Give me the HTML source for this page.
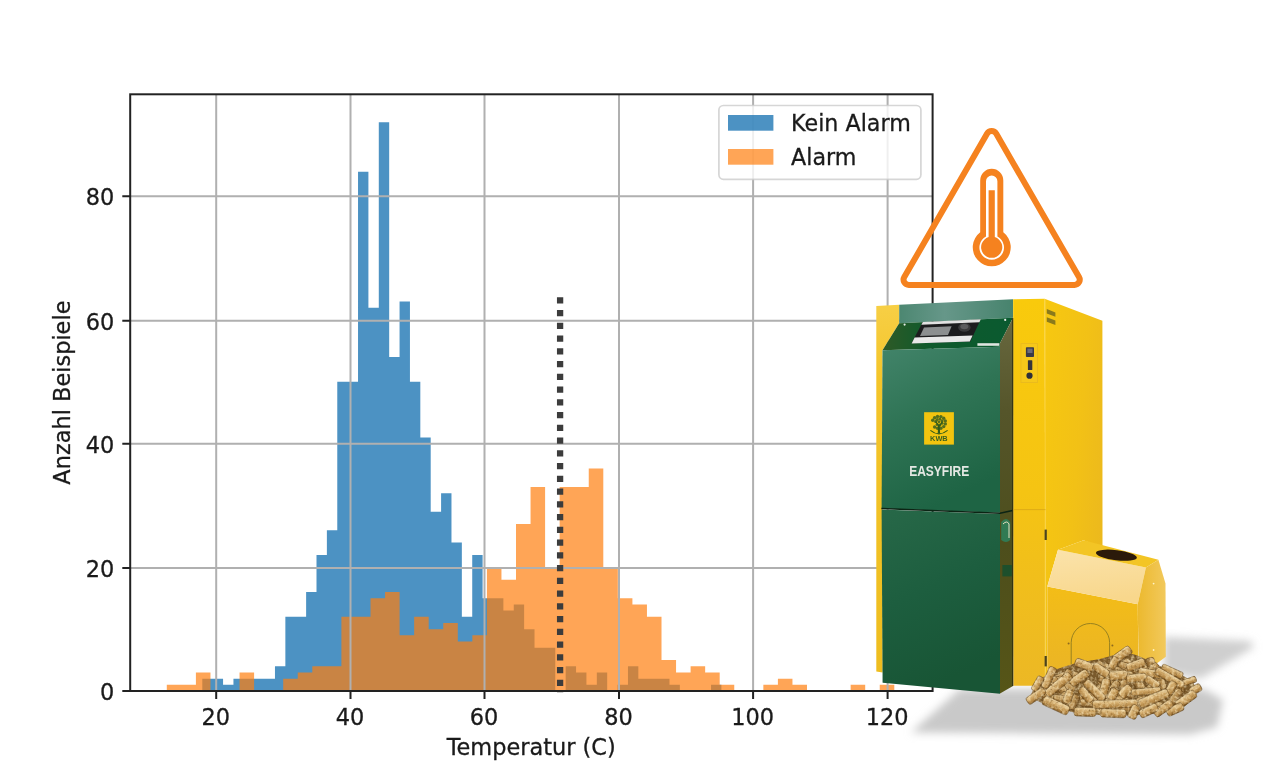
<!DOCTYPE html>
<html lang="de"><head><meta charset="utf-8"><title>Temperatur Histogramm</title>
<style>html,body{margin:0;padding:0;background:#fff;}body{width:1269px;height:776px;overflow:hidden;position:relative;}svg{display:block;position:absolute;left:0;top:0;}text{font-family:"DejaVu Sans", "Liberation Sans", sans-serif;}#chart text{stroke:#1a1a1a;stroke-width:0.3px;}svg{filter:blur(0.4px);}</style>
</head><body>
<svg width="1269" height="776" viewBox="0 0 1269 776">
<defs>
<filter id="blurS" x="-20%" y="-40%" width="140%" height="180%"><feGaussianBlur stdDeviation="4"/></filter>
<filter id="blur1" x="-10%" y="-10%" width="120%" height="120%"><feGaussianBlur stdDeviation="0.6"/></filter>
<linearGradient id="gDoorU" x1="0" y1="0" x2="0.35" y2="1">
<stop offset="0" stop-color="#42846a"/><stop offset="0.45" stop-color="#2f7455"/><stop offset="1" stop-color="#1e6444"/>
</linearGradient>
<linearGradient id="gDoorL" x1="0" y1="0" x2="0.3" y2="1">
<stop offset="0" stop-color="#276848"/><stop offset="0.5" stop-color="#1d5e3f"/><stop offset="1" stop-color="#185535"/>
</linearGradient>
<linearGradient id="gBand" x1="0" y1="0" x2="1" y2="0">
<stop offset="0" stop-color="#4c8771"/><stop offset="0.4" stop-color="#669789"/><stop offset="1" stop-color="#47836d"/>
</linearGradient>
<linearGradient id="gPanel" x1="0" y1="0" x2="1" y2="0">
<stop offset="0" stop-color="#2f5a26"/><stop offset="0.35" stop-color="#0f5a2c"/><stop offset="1" stop-color="#0a5a30"/>
</linearGradient>
<linearGradient id="gOlive" x1="0" y1="0" x2="0" y2="1">
<stop offset="0" stop-color="#68683f"/><stop offset="0.25" stop-color="#55552a"/><stop offset="0.6" stop-color="#4d4e1c"/><stop offset="1" stop-color="#565517"/>
</linearGradient>
<linearGradient id="gYF" x1="0" y1="0" x2="0" y2="1">
<stop offset="0" stop-color="#f9ca0c"/><stop offset="0.5" stop-color="#f5c413"/><stop offset="1" stop-color="#ecb825"/>
</linearGradient>
<linearGradient id="gYS" x1="0" y1="0" x2="1" y2="0.6">
<stop offset="0" stop-color="#f7c810"/><stop offset="0.6" stop-color="#f2c116"/><stop offset="1" stop-color="#ecb91d"/>
</linearGradient>
<linearGradient id="gYL" x1="0" y1="0" x2="0" y2="1">
<stop offset="0" stop-color="#f7cf45"/><stop offset="0.2" stop-color="#f4c52a"/><stop offset="1" stop-color="#eebd1f"/>
</linearGradient>
<linearGradient id="gBoxF" x1="0" y1="0" x2="0" y2="1">
<stop offset="0" stop-color="#f3bd17"/><stop offset="1" stop-color="#e9b328"/>
</linearGradient>
<linearGradient id="gBoxS" x1="0" y1="0" x2="0.2" y2="1">
<stop offset="0" stop-color="#fbe3ab"/><stop offset="1" stop-color="#f8d78c"/>
</linearGradient>
<linearGradient id="gBoxR" x1="0" y1="0" x2="1" y2="0">
<stop offset="0" stop-color="#ecb92e"/><stop offset="1" stop-color="#f2c95c"/>
</linearGradient>
<linearGradient id="gPel" x1="0" y1="0" x2="0" y2="1">
<stop offset="0" stop-color="#e9d2a2"/><stop offset="0.4" stop-color="#d0a868"/><stop offset="0.8" stop-color="#b08342"/><stop offset="1" stop-color="#7d5826"/>
</linearGradient>
<linearGradient id="gPel2" x1="0" y1="0" x2="0" y2="1">
<stop offset="0" stop-color="#d4b680"/><stop offset="0.5" stop-color="#b48a4c"/><stop offset="1" stop-color="#7a5626"/>
</linearGradient>
<filter id="tex" x="-5%" y="-5%" width="110%" height="110%" color-interpolation-filters="sRGB">
<feTurbulence type="fractalNoise" baseFrequency="0.32" numOctaves="2" seed="3" result="n"/>
<feColorMatrix in="n" type="matrix" values="0 0 0 0 1  0 0 0 0 0.93  0 0 0 0 0.76  1.45 0 0 0 -0.6" result="w"/>
<feColorMatrix in="n" type="matrix" values="0 0 0 0 0.35  0 0 0 0 0.22  0 0 0 0 0.05  0 -1.6 0 0 0.68" result="d"/>
<feComposite in="w" in2="SourceAlpha" operator="in" result="wi"/>
<feComposite in="d" in2="SourceAlpha" operator="in" result="di"/>
<feMerge result="m"><feMergeNode in="SourceGraphic"/><feMergeNode in="di"/><feMergeNode in="wi"/></feMerge>
<feGaussianBlur in="m" stdDeviation="0.55"/>
</filter>
</defs>

<rect width="1269" height="776" fill="#ffffff"/>
<g id="chart">
<path d="M202.30 691.00 L202.30 678.63 L212.68 678.63 L212.68 678.63 L223.06 678.63 L223.06 684.82 L233.45 684.82 L233.45 678.63 L243.83 678.63 L243.83 678.63 L254.21 678.63 L254.21 678.63 L264.59 678.63 L264.59 678.63 L274.97 678.63 L274.97 666.27 L285.36 666.27 L285.36 616.80 L295.74 616.80 L295.74 616.80 L306.12 616.80 L306.12 592.07 L316.50 592.07 L316.50 554.97 L326.88 554.97 L326.88 530.24 L337.27 530.24 L337.27 381.85 L347.65 381.85 L347.65 381.85 L358.03 381.85 L358.03 171.63 L368.41 171.63 L368.41 307.65 L378.79 307.65 L378.79 122.16 L389.18 122.16 L389.18 357.12 L399.56 357.12 L399.56 301.47 L409.94 301.47 L409.94 381.85 L420.32 381.85 L420.32 437.50 L430.70 437.50 L430.70 511.69 L441.09 511.69 L441.09 493.14 L451.47 493.14 L451.47 542.61 L461.85 542.61 L461.85 616.80 L472.23 616.80 L472.23 554.97 L482.61 554.97 L482.61 598.25 L493.00 598.25 L493.00 598.25 L503.38 598.25 L503.38 610.62 L513.76 610.62 L513.76 604.44 L524.14 604.44 L524.14 629.17 L534.52 629.17 L534.52 647.72 L544.91 647.72 L544.91 647.72 L555.29 647.72 L555.29 691.00Z M565.67 691.00 L565.67 666.27 L576.05 666.27 L576.05 672.45 L586.43 672.45 L586.43 684.82 L596.82 684.82 L596.82 672.45 L607.20 672.45 L607.20 691.00Z M617.58 691.00 L617.58 684.82 L627.96 684.82 L627.96 666.27 L638.34 666.27 L638.34 678.63 L648.73 678.63 L648.73 678.63 L659.11 678.63 L659.11 678.63 L669.49 678.63 L669.49 684.82 L679.87 684.82 L679.87 691.00Z M711.02 691.00 L711.02 684.82 L721.40 684.82 L721.40 691.00Z" fill="#1f77b4" fill-opacity="0.8"/>
<path d="M166.80 691.00 L166.80 684.82 L181.35 684.82 L181.35 684.82 L195.90 684.82 L195.90 672.45 L210.45 672.45 L210.45 691.00Z M239.55 691.00 L239.55 672.45 L254.10 672.45 L254.10 691.00Z M283.20 691.00 L283.20 678.63 L297.75 678.63 L297.75 672.45 L312.30 672.45 L312.30 666.27 L326.85 666.27 L326.85 666.27 L341.40 666.27 L341.40 616.80 L355.95 616.80 L355.95 616.80 L370.50 616.80 L370.50 598.25 L385.05 598.25 L385.05 592.07 L399.60 592.07 L399.60 635.35 L414.15 635.35 L414.15 616.80 L428.70 616.80 L428.70 629.17 L443.25 629.17 L443.25 622.99 L457.80 622.99 L457.80 641.54 L472.35 641.54 L472.35 635.35 L486.90 635.35 L486.90 567.34 L501.45 567.34 L501.45 579.71 L516.00 579.71 L516.00 524.06 L530.55 524.06 L530.55 486.96 L545.10 486.96 L545.10 567.34 L559.65 567.34 L559.65 486.96 L574.20 486.96 L574.20 486.96 L588.75 486.96 L588.75 468.41 L603.30 468.41 L603.30 567.34 L617.85 567.34 L617.85 598.25 L632.40 598.25 L632.40 604.44 L646.95 604.44 L646.95 616.80 L661.50 616.80 L661.50 660.09 L676.05 660.09 L676.05 672.45 L690.60 672.45 L690.60 666.27 L705.15 666.27 L705.15 672.45 L719.70 672.45 L719.70 684.82 L734.25 684.82 L734.25 691.00Z M763.35 691.00 L763.35 684.82 L777.90 684.82 L777.90 678.63 L792.45 678.63 L792.45 684.82 L807.00 684.82 L807.00 691.00Z M850.65 691.00 L850.65 684.82 L865.20 684.82 L865.20 691.00Z M879.75 691.00 L879.75 684.82 L894.30 684.82 L894.30 691.00Z" fill="#ff7f0e" fill-opacity="0.7"/>
<path d="M216.20 94.30 V691.00 M350.50 94.30 V691.00 M484.50 94.30 V691.00 M619.00 94.30 V691.00 M753.10 94.30 V691.00 M887.60 94.30 V691.00 M130.20 568.00 H932.60 M130.20 443.70 H932.60 M130.20 320.70 H932.60 M130.20 196.30 H932.60" stroke="#b0b0b0" stroke-width="2" fill="none"/>
<path d="M560.1 297.2 V692.7" stroke="#3c3c3c" stroke-width="6.3" stroke-dasharray="6.3 6.45" fill="none"/>
<path d="M216.20 691.00 v7.9 M350.50 691.00 v7.9 M484.50 691.00 v7.9 M619.00 691.00 v7.9 M753.10 691.00 v7.9 M887.60 691.00 v7.9 M130.20 691.00 h-7.9 M130.20 568.00 h-7.9 M130.20 443.70 h-7.9 M130.20 320.70 h-7.9 M130.20 196.30 h-7.9" stroke="#222222" stroke-width="2" fill="none"/>
<rect x="130.20" y="94.30" width="802.40" height="596.70" fill="none" stroke="#222222" stroke-width="2"/>
<text x="215.80" y="724.6" font-size="22.45" text-anchor="middle" fill="#1a1a1a">20</text>
<text x="350.10" y="724.6" font-size="22.45" text-anchor="middle" fill="#1a1a1a">40</text>
<text x="484.10" y="724.6" font-size="22.45" text-anchor="middle" fill="#1a1a1a">60</text>
<text x="618.60" y="724.6" font-size="22.45" text-anchor="middle" fill="#1a1a1a">80</text>
<text x="752.70" y="724.6" font-size="22.45" text-anchor="middle" fill="#1a1a1a">100</text>
<text x="887.20" y="724.6" font-size="22.45" text-anchor="middle" fill="#1a1a1a">120</text>
<text x="114.2" y="700.10" font-size="22.45" text-anchor="end" fill="#1a1a1a">0</text>
<text x="114.2" y="577.10" font-size="22.45" text-anchor="end" fill="#1a1a1a">20</text>
<text x="114.2" y="452.80" font-size="22.45" text-anchor="end" fill="#1a1a1a">40</text>
<text x="114.2" y="329.80" font-size="22.45" text-anchor="end" fill="#1a1a1a">60</text>
<text x="114.2" y="205.40" font-size="22.45" text-anchor="end" fill="#1a1a1a">80</text>
<text x="531.2" y="754.6" font-size="22.45" text-anchor="middle" fill="#1a1a1a">Temperatur (C)</text>
<text transform="translate(70.3 392.6) rotate(-90)" font-size="22.45" text-anchor="middle" fill="#1a1a1a">Anzahl Beispiele</text>
<rect x="718.9" y="105.5" width="202" height="73.8" rx="4.5" ry="4.5" fill="#ffffff" fill-opacity="0.8" stroke="#cccccc" stroke-opacity="0.8" stroke-width="1.7"/>
<rect x="728" y="115" width="45.4" height="15.7" fill="#1f77b4" fill-opacity="0.8"/>
<rect x="728" y="149" width="45.4" height="15.7" fill="#ff7f0e" fill-opacity="0.7"/>
<text x="791.1" y="130.9" font-size="22.2" fill="#1a1a1a">Kein Alarm</text>
<text x="791.1" y="164.9" font-size="22.2" fill="#1a1a1a">Alarm</text>
</g>
<g id="shadow">
<path d="M960 689 L1204 689 L1223 700 L1217 727 L1190 734.5 L911 732.5 Z" fill="#c9c9c9" filter="url(#blurS)"/>
<path d="M1164 637 L1250 641 L1254 647 L1200 679 L1164 672 Z" fill="#cfcfcf" filter="url(#blurS)"/>
</g>

<g id="boiler">
<!-- left yellow strip -->
<path d="M876.3 306.1 L899.2 304.8 L899.2 323.2 L882.5 350.3 L882.6 672.4 L876.3 671.6 Z" fill="url(#gYL)"/>
<!-- top green band -->
<path d="M899.2 304.8 L1013 299.3 L1013 317.7 L899.2 323.2 Z" fill="url(#gBand)"/>
<!-- dark sloped panel -->
<path d="M899.2 323.2 L1013 317.7 L1000 343.2 L1000 346.8 L882.5 350.3 Z" fill="url(#gPanel)"/>
<!-- olive side of door -->
<path d="M1013 317.7 L1013 686 L1000 693.6 L1000 343.2 Z" fill="url(#gOlive)"/>
<!-- door upper -->
<path d="M882.5 350.3 L1000 346.8 L1000 512.8 L881.6 508.4 Z" fill="url(#gDoorU)"/>
<!-- door lower -->
<path d="M881.6 509.6 L1000 514 L1000 693.7 L882.6 682.8 Z" fill="url(#gDoorL)"/>
<path d="M881.4 508.6 L1000 513.2 L1012.6 510.4" stroke="#0c2414" stroke-width="1.5" fill="none"/>
<!-- right yellow front face -->
<path d="M1013.1 299.3 L1044.6 298.7 L1045.7 685.8 L1013.3 685.8 Z" fill="url(#gYF)"/>
<!-- right yellow side face -->
<path d="M1044.6 298.7 L1102.4 320.8 L1102.5 548 L1083.6 540.2 L1058 549.8 L1047.3 586.5 L1047.3 685.8 L1045.7 685.8 Z" fill="url(#gYS)"/>
<path d="M1012.7 318 V686" stroke="#2a2a10" stroke-width="1.2" fill="none" opacity="0.85"/>
<path d="M1045.2 299 V686" stroke="#fbd850" stroke-width="1" fill="none" opacity="0.6"/>
<path d="M1013.3 509.6 H1045.5" stroke="#d9a616" stroke-width="1" fill="none" opacity="0.8"/>
<!-- vents -->
<path d="M1046.8 309 L1055.4 312.4 L1055.4 316.8 L1046.8 313.6 Z M1046.8 317.2 L1055.4 320.6 L1055.4 325 L1046.8 321.8 Z" fill="#8a7a1c"/>
<!-- controls -->
<rect x="1021" y="343.6" width="16.6" height="39" fill="#f6c81a" stroke="#e8b820" stroke-width="0.8"/>
<rect x="1025.9" y="347.2" width="8.1" height="9.8" rx="0.8" fill="#3a3a48"/>
<rect x="1027.4" y="348.6" width="5.1" height="4.4" fill="#6a6a7c"/>
<rect x="1027.9" y="360.2" width="4.4" height="9.8" rx="0.6" fill="#35343c"/>
<circle cx="1029.5" cy="375.7" r="3.1" fill="#2e2e3a"/>
<!-- display module -->
<path d="M922.6 322.2 L980.6 319.6 L970.4 341.4 L911.6 343.2 Z" fill="#1c1c1e"/>
<path d="M922.8 321.9 L980.8 319.3 L979.4 322.2 L921.4 324.8 Z" fill="#e2e2e2"/>
<path d="M914.6 337.6 L972.6 335.6 L969.8 341.6 L911.6 343.4 Z" fill="#e9e9e9"/>
<path d="M924 327.4 L951.6 326.2 L948 335 L920 336 Z" fill="#8c8f90"/>
<ellipse cx="964.4" cy="327.4" rx="6.2" ry="4.4" fill="#3a3a3c"/>
<ellipse cx="964.4" cy="326.6" rx="4" ry="2.6" fill="#5c5c5e"/>
<rect x="977.4" y="343.2" width="22" height="2.6" fill="#dfe5e0"/>
<circle cx="904.6" cy="324.6" r="1.1" fill="#e8efe9"/>
<circle cx="1005.2" cy="319.9" r="1.1" fill="#e8efe9"/>
<!-- door hinge bits on olive side -->
<path d="M1001.2 522 q5 -6 9 0 l0 18 q-4 4 -9 0 Z" fill="#2f7f5a" opacity="0.9"/>
<path d="M1003 524 q4 -4 6 0 l0 14" stroke="#e8e0c0" stroke-width="1" fill="none"/>
<rect x="1002.4" y="565" width="9.4" height="11.4" fill="#1d4f2c"/>
<rect x="1044.6" y="529.6" width="2.2" height="10.4" fill="#4a4320"/>
<rect x="1044.6" y="656" width="2.2" height="10.4" fill="#4a4320"/>
<!-- KWB logo -->
<rect x="924.1" y="412.2" width="29.8" height="32.4" fill="#f2c40f"/>
<g fill="#3a5f1e" fill-opacity="0.85"><circle cx="932.7" cy="420.3" r="1.7"/><circle cx="934.6" cy="417.8" r="1.7"/><circle cx="937.5" cy="416.5" r="1.7"/><circle cx="940.9" cy="416.6" r="1.7"/><circle cx="943.7" cy="418.2" r="1.7"/><circle cx="945.3" cy="420.9" r="1.7"/><circle cx="945.3" cy="423.9" r="1.7"/><circle cx="943.7" cy="426.6" r="1.7"/><circle cx="940.9" cy="428.2" r="1.7"/><circle cx="937.5" cy="428.3" r="1.7"/><circle cx="934.6" cy="427.0" r="1.7"/><circle cx="935.6" cy="421.5" r="1.5"/><circle cx="937.1" cy="419.4" r="1.5"/><circle cx="939.9" cy="419.1" r="1.5"/><circle cx="942.0" cy="420.7" r="1.5"/><circle cx="942.0" cy="423.3" r="1.5"/><circle cx="939.9" cy="424.9" r="1.5"/><circle cx="937.1" cy="424.6" r="1.5"/><circle cx="938.9" cy="421.8" r="1.4"/></g>
<path d="M938.3 433.6 L938.6 425.4 L935.6 421.6 M938.9 426.6 L942.4 421.8 M939.5 433.6 L939.3 425.4" stroke="#2f5a1c" stroke-width="1.1" fill="none"/>
<path d="M930.4 430.4 Q938.9 437.4 947.6 430.4" stroke="#2f5a1c" stroke-width="1.1" fill="none"/>
<text x="938.9" y="441.3" font-size="7.4" font-weight="bold" text-anchor="middle" fill="#3a5f1e" textLength="17.6" lengthAdjust="spacingAndGlyphs" style="font-family:'Liberation Sans',sans-serif">KWB</text>
<!-- EASYFIRE -->
<text x="909.2" y="476.3" font-size="14.3" font-weight="bold" fill="#e4e8e3" textLength="60" lengthAdjust="spacingAndGlyphs" style="font-family:'Liberation Sans','DejaVu Sans',sans-serif">EASYFIRE</text>
<!-- pellet box -->
<path d="M1047.3 586.5 L1137.7 604.3 L1138.8 690 L1047.3 690 Z" fill="url(#gBoxF)"/>
<path d="M1058 549.8 L1145.9 567.6 L1137.7 604.3 L1047.3 586.5 Z" fill="url(#gBoxS)"/>
<path d="M1058 549.8 L1083.6 540.2 L1158.4 559.8 L1145.9 567.6 Z" fill="#f3c525"/>
<path d="M1145.9 567.6 L1158.4 559.8 L1165.5 583.6 L1165.8 656.7 L1152 667 L1138.8 670 L1137.7 604.3 Z" fill="url(#gBoxR)"/>
<ellipse cx="1116.4" cy="555.2" rx="20.6" ry="5" transform="rotate(7 1116.4 555.2)" fill="#2b1a0a"/>
<path d="M1071.2 664 V642.7 A19.2 19.2 0 0 1 1109.6 642.7 V664" stroke="#8d7a1f" stroke-width="0.9" fill="none"/>
<circle cx="1068.6" cy="643.4" r="1" fill="#8d6a1f"/>
<circle cx="1112.4" cy="645.4" r="1" fill="#8d6a1f"/>
<circle cx="1153.6" cy="583.6" r="0.9" fill="#fff3c8"/>
<circle cx="1153.6" cy="650" r="0.9" fill="#fff3c8"/>
</g>

<g id="pellets" filter="url(#tex)">
<path d="M1030.0 697.0 L1034.0 688.0 L1042.0 678.0 L1054.0 670.0 L1076.0 663.0 L1100.0 659.0 L1114.0 655.0 L1126.0 652.0 L1136.0 655.0 L1148.0 660.0 L1162.0 667.0 L1180.0 674.0 L1192.0 681.0 L1197.0 689.0 L1194.0 698.0 L1184.0 707.0 L1162.0 713.0 L1130.0 715.5 L1100.0 715.0 L1076.0 713.0 L1057.0 708.0 L1042.0 703.0Z" fill="#7a5a2c"/>
<rect x="1121.3" y="662.2" width="17.1" height="8.1" rx="2.4" transform="rotate(47 1129.9 666.3)" fill="url(#gPel2)" stroke="#5e4017" stroke-opacity="0.6" stroke-width="0.9"/>
<rect x="1118.7" y="663.3" width="17.4" height="8.0" rx="2.4" transform="rotate(17 1127.4 667.3)" fill="url(#gPel2)" stroke="#5e4017" stroke-opacity="0.6" stroke-width="0.9"/>
<rect x="1138.4" y="663.2" width="13.7" height="8.4" rx="2.5" transform="rotate(26 1145.3 667.4)" fill="url(#gPel2)" stroke="#5e4017" stroke-opacity="0.6" stroke-width="0.9"/>
<rect x="1131.1" y="663.3" width="19.2" height="8.3" rx="2.5" transform="rotate(23 1140.7 667.5)" fill="url(#gPel2)" stroke="#5e4017" stroke-opacity="0.6" stroke-width="0.9"/>
<rect x="1094.2" y="663.7" width="14.7" height="8.5" rx="2.5" transform="rotate(49 1101.5 668.0)" fill="url(#gPel2)" stroke="#5e4017" stroke-opacity="0.6" stroke-width="0.9"/>
<rect x="1141.5" y="663.8" width="21.0" height="8.5" rx="2.5" transform="rotate(76 1152.0 668.0)" fill="url(#gPel2)" stroke="#5e4017" stroke-opacity="0.6" stroke-width="0.9"/>
<rect x="1102.3" y="665.0" width="19.0" height="8.0" rx="2.4" transform="rotate(18 1111.8 669.0)" fill="url(#gPel2)" stroke="#5e4017" stroke-opacity="0.6" stroke-width="0.9"/>
<rect x="1139.7" y="666.6" width="20.2" height="8.1" rx="2.4" transform="rotate(-33 1149.8 670.7)" fill="url(#gPel2)" stroke="#5e4017" stroke-opacity="0.6" stroke-width="0.9"/>
<rect x="1099.5" y="667.8" width="14.1" height="7.9" rx="2.4" transform="rotate(20 1106.6 671.8)" fill="url(#gPel2)" stroke="#5e4017" stroke-opacity="0.6" stroke-width="0.9"/>
<rect x="1143.2" y="670.3" width="14.3" height="7.8" rx="2.3" transform="rotate(-69 1150.3 674.2)" fill="url(#gPel2)" stroke="#5e4017" stroke-opacity="0.6" stroke-width="0.9"/>
<rect x="1103.8" y="670.0" width="20.4" height="8.5" rx="2.5" transform="rotate(-8 1114.0 674.2)" fill="url(#gPel2)" stroke="#5e4017" stroke-opacity="0.6" stroke-width="0.9"/>
<rect x="1122.4" y="670.3" width="13.4" height="8.0" rx="2.4" transform="rotate(54 1129.1 674.3)" fill="url(#gPel2)" stroke="#5e4017" stroke-opacity="0.6" stroke-width="0.9"/>
<rect x="1066.8" y="672.1" width="19.0" height="8.0" rx="2.4" transform="rotate(18 1076.3 676.1)" fill="url(#gPel2)" stroke="#5e4017" stroke-opacity="0.6" stroke-width="0.9"/>
<rect x="1051.1" y="673.7" width="17.7" height="7.6" rx="2.3" transform="rotate(-22 1060.0 677.5)" fill="url(#gPel2)" stroke="#5e4017" stroke-opacity="0.6" stroke-width="0.9"/>
<rect x="1096.2" y="673.9" width="16.1" height="8.0" rx="2.4" transform="rotate(-54 1104.3 677.9)" fill="url(#gPel2)" stroke="#5e4017" stroke-opacity="0.6" stroke-width="0.9"/>
<rect x="1148.6" y="674.8" width="19.9" height="8.4" rx="2.5" transform="rotate(-66 1158.6 679.0)" fill="url(#gPel2)" stroke="#5e4017" stroke-opacity="0.6" stroke-width="0.9"/>
<rect x="1055.5" y="675.0" width="20.5" height="8.1" rx="2.4" transform="rotate(-64 1065.8 679.1)" fill="url(#gPel2)" stroke="#5e4017" stroke-opacity="0.6" stroke-width="0.9"/>
<rect x="1150.0" y="675.5" width="20.5" height="7.9" rx="2.4" transform="rotate(73 1160.3 679.4)" fill="url(#gPel2)" stroke="#5e4017" stroke-opacity="0.6" stroke-width="0.9"/>
<rect x="1107.7" y="675.4" width="20.0" height="8.1" rx="2.4" transform="rotate(-1 1117.7 679.4)" fill="url(#gPel2)" stroke="#5e4017" stroke-opacity="0.6" stroke-width="0.9"/>
<rect x="1110.8" y="676.0" width="21.6" height="8.4" rx="2.5" transform="rotate(-37 1121.6 680.2)" fill="url(#gPel2)" stroke="#5e4017" stroke-opacity="0.6" stroke-width="0.9"/>
<rect x="1098.7" y="677.9" width="20.4" height="8.0" rx="2.4" transform="rotate(22 1108.9 681.9)" fill="url(#gPel2)" stroke="#5e4017" stroke-opacity="0.6" stroke-width="0.9"/>
<rect x="1127.8" y="678.2" width="18.3" height="8.2" rx="2.4" transform="rotate(49 1137.0 682.2)" fill="url(#gPel2)" stroke="#5e4017" stroke-opacity="0.6" stroke-width="0.9"/>
<rect x="1118.1" y="678.2" width="13.9" height="8.2" rx="2.5" transform="rotate(-59 1125.1 682.3)" fill="url(#gPel2)" stroke="#5e4017" stroke-opacity="0.6" stroke-width="0.9"/>
<rect x="1043.0" y="678.5" width="18.3" height="8.4" rx="2.5" transform="rotate(-20 1052.1 682.7)" fill="url(#gPel2)" stroke="#5e4017" stroke-opacity="0.6" stroke-width="0.9"/>
<rect x="1047.0" y="678.6" width="12.2" height="8.3" rx="2.5" transform="rotate(-42 1053.1 682.7)" fill="url(#gPel2)" stroke="#5e4017" stroke-opacity="0.6" stroke-width="0.9"/>
<rect x="1057.0" y="680.2" width="13.8" height="7.5" rx="2.3" transform="rotate(-4 1063.9 684.0)" fill="url(#gPel2)" stroke="#5e4017" stroke-opacity="0.6" stroke-width="0.9"/>
<rect x="1043.6" y="682.3" width="14.5" height="7.7" rx="2.3" transform="rotate(5 1050.9 686.1)" fill="url(#gPel2)" stroke="#5e4017" stroke-opacity="0.6" stroke-width="0.9"/>
<rect x="1060.2" y="683.0" width="14.9" height="8.2" rx="2.5" transform="rotate(22 1067.6 687.1)" fill="url(#gPel2)" stroke="#5e4017" stroke-opacity="0.6" stroke-width="0.9"/>
<rect x="1095.1" y="684.6" width="19.7" height="8.0" rx="2.4" transform="rotate(-75 1105.0 688.6)" fill="url(#gPel2)" stroke="#5e4017" stroke-opacity="0.6" stroke-width="0.9"/>
<rect x="1096.3" y="685.2" width="21.2" height="8.0" rx="2.4" transform="rotate(1 1106.9 689.1)" fill="url(#gPel2)" stroke="#5e4017" stroke-opacity="0.6" stroke-width="0.9"/>
<rect x="1142.9" y="685.7" width="15.1" height="8.3" rx="2.5" transform="rotate(-77 1150.5 689.8)" fill="url(#gPel2)" stroke="#5e4017" stroke-opacity="0.6" stroke-width="0.9"/>
<rect x="1101.9" y="686.2" width="20.7" height="7.7" rx="2.3" transform="rotate(-55 1112.2 690.0)" fill="url(#gPel2)" stroke="#5e4017" stroke-opacity="0.6" stroke-width="0.9"/>
<rect x="1038.1" y="686.5" width="14.4" height="8.1" rx="2.4" transform="rotate(-21 1045.3 690.5)" fill="url(#gPel2)" stroke="#5e4017" stroke-opacity="0.6" stroke-width="0.9"/>
<rect x="1171.9" y="688.0" width="16.2" height="7.6" rx="2.3" transform="rotate(-74 1180.0 691.8)" fill="url(#gPel2)" stroke="#5e4017" stroke-opacity="0.6" stroke-width="0.9"/>
<rect x="1167.5" y="688.3" width="14.8" height="8.4" rx="2.5" transform="rotate(-47 1174.9 692.5)" fill="url(#gPel2)" stroke="#5e4017" stroke-opacity="0.6" stroke-width="0.9"/>
<rect x="1134.4" y="688.8" width="13.6" height="7.5" rx="2.3" transform="rotate(5 1141.2 692.5)" fill="url(#gPel2)" stroke="#5e4017" stroke-opacity="0.6" stroke-width="0.9"/>
<rect x="1051.9" y="688.9" width="21.3" height="7.6" rx="2.3" transform="rotate(45 1062.5 692.7)" fill="url(#gPel2)" stroke="#5e4017" stroke-opacity="0.6" stroke-width="0.9"/>
<rect x="1119.5" y="689.1" width="15.8" height="8.1" rx="2.4" transform="rotate(17 1127.4 693.1)" fill="url(#gPel2)" stroke="#5e4017" stroke-opacity="0.6" stroke-width="0.9"/>
<rect x="1055.5" y="689.5" width="18.4" height="8.0" rx="2.4" transform="rotate(56 1064.7 693.5)" fill="url(#gPel2)" stroke="#5e4017" stroke-opacity="0.6" stroke-width="0.9"/>
<rect x="1032.7" y="689.8" width="21.9" height="8.4" rx="2.5" transform="rotate(37 1043.6 694.0)" fill="url(#gPel2)" stroke="#5e4017" stroke-opacity="0.6" stroke-width="0.9"/>
<rect x="1106.7" y="691.5" width="16.6" height="7.8" rx="2.3" transform="rotate(80 1115.0 695.4)" fill="url(#gPel2)" stroke="#5e4017" stroke-opacity="0.6" stroke-width="0.9"/>
<rect x="1079.3" y="692.6" width="21.0" height="8.4" rx="2.5" transform="rotate(-13 1089.8 696.8)" fill="url(#gPel2)" stroke="#5e4017" stroke-opacity="0.6" stroke-width="0.9"/>
<rect x="1061.0" y="693.0" width="15.2" height="7.9" rx="2.4" transform="rotate(19 1068.6 696.9)" fill="url(#gPel2)" stroke="#5e4017" stroke-opacity="0.6" stroke-width="0.9"/>
<rect x="1132.8" y="693.3" width="17.8" height="7.6" rx="2.3" transform="rotate(-74 1141.7 697.2)" fill="url(#gPel2)" stroke="#5e4017" stroke-opacity="0.6" stroke-width="0.9"/>
<rect x="1163.5" y="694.5" width="21.5" height="7.8" rx="2.3" transform="rotate(-53 1174.3 698.4)" fill="url(#gPel2)" stroke="#5e4017" stroke-opacity="0.6" stroke-width="0.9"/>
<rect x="1053.5" y="695.1" width="12.7" height="7.7" rx="2.3" transform="rotate(9 1059.8 698.9)" fill="url(#gPel2)" stroke="#5e4017" stroke-opacity="0.6" stroke-width="0.9"/>
<rect x="1104.4" y="695.3" width="15.2" height="8.5" rx="2.5" transform="rotate(-68 1112.0 699.6)" fill="url(#gPel2)" stroke="#5e4017" stroke-opacity="0.6" stroke-width="0.9"/>
<rect x="1087.1" y="695.9" width="17.8" height="7.9" rx="2.4" transform="rotate(54 1096.0 699.8)" fill="url(#gPel2)" stroke="#5e4017" stroke-opacity="0.6" stroke-width="0.9"/>
<rect x="1112.3" y="695.8" width="21.0" height="8.2" rx="2.5" transform="rotate(33 1122.8 700.0)" fill="url(#gPel2)" stroke="#5e4017" stroke-opacity="0.6" stroke-width="0.9"/>
<rect x="1066.3" y="698.2" width="15.3" height="7.8" rx="2.3" transform="rotate(-68 1073.9 702.1)" fill="url(#gPel2)" stroke="#5e4017" stroke-opacity="0.6" stroke-width="0.9"/>
<rect x="1129.7" y="698.7" width="14.7" height="7.6" rx="2.3" transform="rotate(-27 1137.0 702.5)" fill="url(#gPel2)" stroke="#5e4017" stroke-opacity="0.6" stroke-width="0.9"/>
<rect x="1080.2" y="699.2" width="13.4" height="7.6" rx="2.3" transform="rotate(3 1087.0 703.1)" fill="url(#gPel2)" stroke="#5e4017" stroke-opacity="0.6" stroke-width="0.9"/>
<rect x="1113.7" y="699.0" width="15.2" height="8.4" rx="2.5" transform="rotate(57 1121.3 703.2)" fill="url(#gPel2)" stroke="#5e4017" stroke-opacity="0.6" stroke-width="0.9"/>
<rect x="1092.7" y="700.0" width="21.1" height="8.4" rx="2.5" transform="rotate(-18 1103.3 704.2)" fill="url(#gPel2)" stroke="#5e4017" stroke-opacity="0.6" stroke-width="0.9"/>
<rect x="1093.2" y="700.8" width="21.0" height="8.0" rx="2.4" transform="rotate(-29 1103.7 704.8)" fill="url(#gPel2)" stroke="#5e4017" stroke-opacity="0.6" stroke-width="0.9"/>
<rect x="1143.6" y="702.0" width="18.9" height="8.4" rx="2.5" transform="rotate(-1 1153.0 706.2)" fill="url(#gPel2)" stroke="#5e4017" stroke-opacity="0.6" stroke-width="0.9"/>
<rect x="1110.1" y="702.6" width="17.6" height="7.8" rx="2.3" transform="rotate(-19 1118.9 706.5)" fill="url(#gPel2)" stroke="#5e4017" stroke-opacity="0.6" stroke-width="0.9"/>
<rect x="1126.8" y="703.1" width="14.3" height="8.2" rx="2.5" transform="rotate(50 1134.0 707.3)" fill="url(#gPel2)" stroke="#5e4017" stroke-opacity="0.6" stroke-width="0.9"/>
<rect x="1116.7" y="704.4" width="20.0" height="8.4" rx="2.5" transform="rotate(-6 1126.7 708.6)" fill="url(#gPel2)" stroke="#5e4017" stroke-opacity="0.6" stroke-width="0.9"/>
<rect x="1097.5" y="705.3" width="15.3" height="8.2" rx="2.4" transform="rotate(-48 1105.1 709.4)" fill="url(#gPel2)" stroke="#5e4017" stroke-opacity="0.6" stroke-width="0.9"/>
<rect x="1113.2" y="649.9" width="19.1" height="8.7" rx="2.6" transform="rotate(-35 1122.7 654.3)" fill="url(#gPel)" stroke="#5e4017" stroke-opacity="0.6" stroke-width="0.9"/>
<rect x="1126.2" y="660.7" width="19.1" height="8.7" rx="2.6" transform="rotate(-20 1135.7 665.0)" fill="url(#gPel)" stroke="#5e4017" stroke-opacity="0.6" stroke-width="0.9"/>
<rect x="1108.0" y="659.0" width="12.1" height="7.8" rx="2.3" transform="rotate(-60 1114.0 662.9)" fill="url(#gPel)" stroke="#5e4017" stroke-opacity="0.6" stroke-width="0.9"/>
<rect x="1074.7" y="660.7" width="19.1" height="8.7" rx="2.6" transform="rotate(20 1084.2 665.0)" fill="url(#gPel)" stroke="#5e4017" stroke-opacity="0.6" stroke-width="0.9"/>
<rect x="1092.4" y="666.1" width="17.3" height="8.3" rx="2.5" transform="rotate(35 1101.0 670.2)" fill="url(#gPel)" stroke="#5e4017" stroke-opacity="0.6" stroke-width="0.9"/>
<rect x="1138.3" y="669.4" width="24.3" height="7.8" rx="2.3" transform="rotate(10 1150.4 673.3)" fill="url(#gPel)" stroke="#5e4017" stroke-opacity="0.6" stroke-width="0.9"/>
<rect x="1160.8" y="668.1" width="22.5" height="6.9" rx="2.1" transform="rotate(25 1172.1 671.6)" fill="url(#gPel)" stroke="#5e4017" stroke-opacity="0.6" stroke-width="0.9"/>
<rect x="1037.7" y="673.8" width="22.5" height="7.8" rx="2.3" transform="rotate(-65 1049.0 677.7)" fill="url(#gPel)" stroke="#5e4017" stroke-opacity="0.6" stroke-width="0.9"/>
<rect x="1029.9" y="680.3" width="15.6" height="6.9" rx="2.1" transform="rotate(-60 1037.7 683.7)" fill="url(#gPel)" stroke="#5e4017" stroke-opacity="0.6" stroke-width="0.9"/>
<rect x="1182.5" y="678.1" width="13.9" height="6.1" rx="1.8" transform="rotate(-20 1189.4 681.1)" fill="url(#gPel)" stroke="#5e4017" stroke-opacity="0.6" stroke-width="0.9"/>
<rect x="1068.9" y="673.7" width="20.8" height="8.7" rx="2.6" transform="rotate(-35 1079.3 678.0)" fill="url(#gPel)" stroke="#5e4017" stroke-opacity="0.6" stroke-width="0.9"/>
<rect x="1042.9" y="680.3" width="31.2" height="8.7" rx="2.6" transform="rotate(-40 1058.5 684.6)" fill="url(#gPel)" stroke="#5e4017" stroke-opacity="0.6" stroke-width="0.9"/>
<rect x="1109.3" y="670.7" width="18.2" height="9.5" rx="2.9" transform="rotate(-5 1118.4 675.4)" fill="url(#gPel)" stroke="#5e4017" stroke-opacity="0.6" stroke-width="0.9"/>
<rect x="1126.6" y="673.9" width="19.9" height="8.3" rx="2.5" transform="rotate(-5 1136.6 678.0)" fill="url(#gPel)" stroke="#5e4017" stroke-opacity="0.6" stroke-width="0.9"/>
<rect x="1153.9" y="674.1" width="31.2" height="7.8" rx="2.3" transform="rotate(30 1169.5 678.0)" fill="url(#gPel)" stroke="#5e4017" stroke-opacity="0.6" stroke-width="0.9"/>
<rect x="1144.4" y="678.5" width="15.6" height="7.8" rx="2.3" transform="rotate(35 1152.2 682.4)" fill="url(#gPel)" stroke="#5e4017" stroke-opacity="0.6" stroke-width="0.9"/>
<rect x="1189.4" y="685.4" width="12.1" height="7.8" rx="2.3" transform="rotate(-30 1195.5 689.3)" fill="url(#gPel)" stroke="#5e4017" stroke-opacity="0.6" stroke-width="0.9"/>
<rect x="1096.2" y="682.9" width="17.3" height="8.7" rx="2.6" transform="rotate(-75 1104.8 687.2)" fill="url(#gPel)" stroke="#5e4017" stroke-opacity="0.6" stroke-width="0.9"/>
<rect x="1081.4" y="686.5" width="26.0" height="8.3" rx="2.5" transform="rotate(45 1094.4 690.7)" fill="url(#gPel)" stroke="#5e4017" stroke-opacity="0.6" stroke-width="0.9"/>
<rect x="1118.7" y="686.8" width="13.9" height="9.5" rx="2.9" transform="rotate(-45 1125.6 691.5)" fill="url(#gPel)" stroke="#5e4017" stroke-opacity="0.6" stroke-width="0.9"/>
<rect x="1131.4" y="688.1" width="29.5" height="6.9" rx="2.1" transform="rotate(-5 1146.1 691.5)" fill="url(#gPel)" stroke="#5e4017" stroke-opacity="0.6" stroke-width="0.9"/>
<rect x="1164.3" y="683.9" width="13.9" height="8.3" rx="2.5" transform="rotate(-60 1171.2 688.1)" fill="url(#gPel)" stroke="#5e4017" stroke-opacity="0.6" stroke-width="0.9"/>
<rect x="1107.1" y="689.8" width="12.1" height="8.7" rx="2.6" transform="rotate(-60 1113.2 694.1)" fill="url(#gPel)" stroke="#5e4017" stroke-opacity="0.6" stroke-width="0.9"/>
<rect x="1077.1" y="690.9" width="17.3" height="8.3" rx="2.5" transform="rotate(50 1085.8 695.0)" fill="url(#gPel)" stroke="#5e4017" stroke-opacity="0.6" stroke-width="0.9"/>
<rect x="1061.5" y="692.6" width="13.9" height="8.3" rx="2.5" transform="rotate(-70 1068.4 696.7)" fill="url(#gPel)" stroke="#5e4017" stroke-opacity="0.6" stroke-width="0.9"/>
<rect x="1025.6" y="692.0" width="20.8" height="7.8" rx="2.3" transform="rotate(-35 1036.0 695.9)" fill="url(#gPel)" stroke="#5e4017" stroke-opacity="0.6" stroke-width="0.9"/>
<rect x="1174.7" y="695.0" width="22.5" height="8.7" rx="2.6" transform="rotate(-35 1186.0 699.3)" fill="url(#gPel)" stroke="#5e4017" stroke-opacity="0.6" stroke-width="0.9"/>
<rect x="1138.3" y="693.7" width="31.2" height="9.5" rx="2.9" transform="rotate(-22 1153.9 698.5)" fill="url(#gPel)" stroke="#5e4017" stroke-opacity="0.6" stroke-width="0.9"/>
<rect x="1042.1" y="700.6" width="27.7" height="9.5" rx="2.9" transform="rotate(25 1055.9 705.4)" fill="url(#gPel)" stroke="#5e4017" stroke-opacity="0.6" stroke-width="0.9"/>
<rect x="1092.4" y="699.9" width="45.1" height="8.3" rx="2.5" transform="rotate(-2 1114.9 704.0)" fill="url(#gPel)" stroke="#5e4017" stroke-opacity="0.6" stroke-width="0.9"/>
<rect x="1166.4" y="705.2" width="17.3" height="8.3" rx="2.5" transform="rotate(-25 1175.0 709.4)" fill="url(#gPel)" stroke="#5e4017" stroke-opacity="0.6" stroke-width="0.9"/>
<rect x="1153.0" y="704.2" width="20.8" height="8.3" rx="2.5" transform="rotate(-35 1163.4 708.4)" fill="url(#gPel)" stroke="#5e4017" stroke-opacity="0.6" stroke-width="0.9"/>
<rect x="1139.2" y="706.5" width="19.1" height="8.3" rx="2.5" transform="rotate(-25 1148.7 710.6)" fill="url(#gPel)" stroke="#5e4017" stroke-opacity="0.6" stroke-width="0.9"/>
<rect x="1127.0" y="707.5" width="13.9" height="8.7" rx="2.6" transform="rotate(-65 1134.0 711.8)" fill="url(#gPel)" stroke="#5e4017" stroke-opacity="0.6" stroke-width="0.9"/>
<rect x="1074.2" y="707.5" width="21.7" height="8.7" rx="2.6" transform="rotate(2 1085.1 711.8)" fill="url(#gPel)" stroke="#5e4017" stroke-opacity="0.6" stroke-width="0.9"/>
<rect x="1100.9" y="709.1" width="25.1" height="8.3" rx="2.5" transform="rotate(2 1113.5 713.2)" fill="url(#gPel)" stroke="#5e4017" stroke-opacity="0.6" stroke-width="0.9"/>
</g>
<g id="warn" transform="translate(0 0.4)">
<path d="M987.15 133.2 A5.2 5.2 0 0 1 996.15 133.2 L1079 276.7 A5.2 5.2 0 0 1 1074.5 284.5 L908.8 284.5 A5.2 5.2 0 0 1 904.3 276.7 Z" fill="none" stroke="#f5821f" stroke-width="6" stroke-linejoin="round"/>
<path d="M980.2 180 A11.55 11.55 0 0 1 1003.3 180 V231.8 A19 19 0 1 1 980.2 231.8 Z" fill="#f5821f"/>
<path d="M986 180.8 A5.7 5.7 0 0 1 997.4 180.8 V236.2 A12.3 12.3 0 1 1 986 236.2 Z" fill="#ffffff"/>
<path d="M988.6 189.9 H994.8 V236.7 A10.6 10.6 0 1 1 988.6 236.7 Z" fill="#f5821f"/>
</g>

</svg>
</body></html>
